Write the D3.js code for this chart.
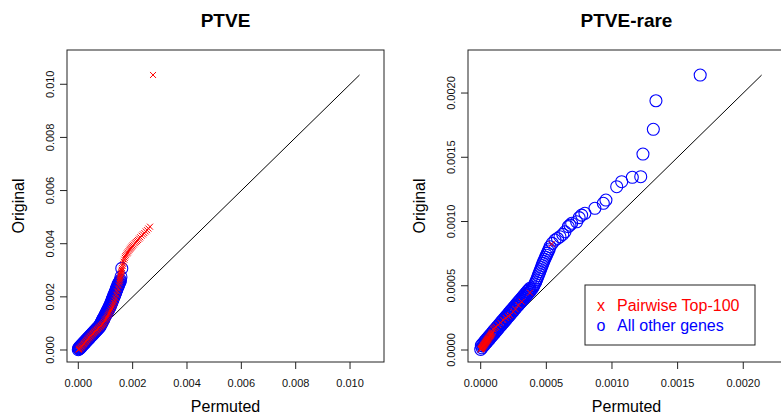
<!DOCTYPE html>
<html lang="en">
<head>
  <meta charset="UTF-8" />
  <title>PTVE QQ plots</title>
  <style>
    html, body {
      margin: 0;
      padding: 0;
      background: #fff;
    }
    svg {
      display: block;
      font-family: "Liberation Sans", Arial, Helvetica, sans-serif;
    }
  </style>
</head>
<body>

<script src="https://d3js.org/d3.v7.min.js"></script>
<script>
// ---- data ----
// PTVE, all other genes (blue circles)
const ptveOtherX = [
  0.00000, 0.00003, 0.00006, 0.00009, 0.00012, 0.00015, 0.00018, 0.00021, 0.00024, 0.00027,
  0.00030, 0.00033, 0.00036, 0.00039, 0.00042, 0.00045, 0.00048, 0.00051, 0.00054, 0.00057,
  0.00060, 0.00063, 0.00066, 0.00069, 0.00072, 0.00075, 0.00078,
  0.00080, 0.00082, 0.00084, 0.00086, 0.00088, 0.00090, 0.00092, 0.00094, 0.00096, 0.00098,
  0.00100, 0.00102, 0.00104, 0.00106, 0.00108, 0.00110, 0.00112, 0.00114, 0.00116,
  0.00118, 0.00120, 0.00122, 0.00124, 0.00126, 0.00128, 0.00130, 0.00132, 0.00134, 0.00136,
  0.00138, 0.00140, 0.00142, 0.00144, 0.00146, 0.00148, 0.00150,
  0.00152, 0.00154, 0.00155, 0.00157, 0.00160,
  // upper edge of the dense band
  0.000015, 0.000045, 0.000075, 0.000105, 0.000135, 0.000165, 0.000195, 0.000225, 0.000255, 0.000285,
  0.000315, 0.000345, 0.000375, 0.000405, 0.000435, 0.000465, 0.000495, 0.000525, 0.000555, 0.000585,
  0.000615, 0.000645, 0.000675, 0.000705, 0.000735, 0.000765,
  0.00081, 0.00083, 0.00085, 0.00087, 0.00089, 0.00091, 0.00093, 0.00095, 0.00097, 0.00099,
  0.00101, 0.00103, 0.00105, 0.00107, 0.00109, 0.00111, 0.00113, 0.00115,
  0.00117, 0.00119, 0.00121, 0.00123, 0.00125, 0.00127, 0.00129, 0.00131, 0.00133, 0.00135,
  0.00137, 0.00139, 0.00141, 0.00143, 0.00145, 0.00147, 0.00149
];
const ptveOtherY = [
  0.00001, 0.00004, 0.00006, 0.00010, 0.00013, 0.00017, 0.00020, 0.00023, 0.00027, 0.00030,
  0.00033, 0.00037, 0.00040, 0.00043, 0.00046, 0.00050, 0.00053, 0.00056, 0.00060, 0.00063,
  0.00066, 0.00069, 0.00073, 0.00076, 0.00079, 0.00083, 0.00086,
  0.00089, 0.00093, 0.00097, 0.00101, 0.00105, 0.00109, 0.00113, 0.00117, 0.00121, 0.00125,
  0.00129, 0.00133, 0.00137, 0.00141, 0.00145, 0.00149, 0.00153, 0.00157, 0.00161,
  0.00166, 0.00171, 0.00176, 0.00181, 0.00186, 0.00192, 0.00197, 0.00202, 0.00207, 0.00212,
  0.00218, 0.00223, 0.00228, 0.00234, 0.00239, 0.00244, 0.00249,
  0.00254, 0.00258, 0.00263, 0.00275, 0.00307,
  // upper edge of the dense band
  0.000070, 0.000103, 0.000136, 0.000169, 0.000202, 0.000235, 0.000268, 0.000301, 0.000334, 0.000367,
  0.000400, 0.000433, 0.000466, 0.000499, 0.000532, 0.000565, 0.000598, 0.000631, 0.000664, 0.000697,
  0.000730, 0.000763, 0.000796, 0.000829, 0.000862, 0.000895,
  0.00096, 0.00100, 0.00104, 0.00108, 0.00112, 0.00116, 0.00120, 0.00124, 0.00128, 0.00132,
  0.00136, 0.00140, 0.00144, 0.00148, 0.00152, 0.00156, 0.00160, 0.00164,
  0.00169, 0.00174, 0.00179, 0.00185, 0.00190, 0.00195, 0.00200, 0.00206, 0.00211, 0.00216,
  0.00221, 0.00227, 0.00232, 0.00237, 0.00242, 0.00248, 0.00253
];
// PTVE, pairwise top-100 (red x)
const ptveTopX = [
  0.00001, 0.00003, 0.00005, 0.00008, 0.00011, 0.00014, 0.00017, 0.00020, 0.00023, 0.00026,
  0.00029, 0.00032, 0.00035, 0.00038, 0.00041, 0.00044, 0.00047, 0.00050, 0.00053, 0.00056,
  0.00059, 0.00062, 0.00065, 0.00068, 0.00071, 0.00074, 0.00077, 0.00080, 0.00083, 0.00086,
  0.00089, 0.00092, 0.00095, 0.00098, 0.00101, 0.00104, 0.00107, 0.00110, 0.00113, 0.00116,
  0.00119, 0.00122, 0.00125, 0.00128, 0.00131, 0.00134, 0.00137, 0.00140, 0.00143, 0.00146,
  0.00149,
  0.00151, 0.00152, 0.00153, 0.00154, 0.00155, 0.00156, 0.00157, 0.00158, 0.00159, 0.00160,
  0.00161, 0.00163, 0.00165, 0.00167, 0.00169, 0.00171, 0.00173, 0.00176, 0.00179, 0.00182,
  0.00185, 0.00188, 0.00191, 0.00194, 0.00197, 0.00200, 0.00204, 0.00208, 0.00212, 0.00216,
  0.00220, 0.00224, 0.00228, 0.00233, 0.00238, 0.00243, 0.00248, 0.00253, 0.00258, 0.00264,
  0.00275
];
const ptveTopY = [
  0.00001, 0.00003, 0.00006, 0.00009, 0.00013, 0.00016, 0.00020, 0.00023, 0.00026, 0.00030,
  0.00033, 0.00037, 0.00040, 0.00044, 0.00047, 0.00051, 0.00054, 0.00058, 0.00061, 0.00064,
  0.00067, 0.00070, 0.00073, 0.00076, 0.00079, 0.00082, 0.00085, 0.00088, 0.00091, 0.00094,
  0.00097, 0.00100, 0.00105, 0.00111, 0.00116, 0.00121, 0.00126, 0.00132, 0.00137, 0.00142,
  0.00149, 0.00156, 0.00164, 0.00171, 0.00178, 0.00186, 0.00196, 0.00208, 0.00220, 0.00231,
  0.00243,
  0.00253, 0.00260, 0.00266, 0.00272, 0.00278, 0.00284, 0.00289, 0.00294, 0.00298, 0.00302,
  0.00308, 0.00316, 0.00324, 0.00332, 0.00340, 0.00347, 0.00353, 0.00358, 0.00363, 0.00367,
  0.00372, 0.00377, 0.00381, 0.00385, 0.00389, 0.00393, 0.00397, 0.00402, 0.00406, 0.00410,
  0.00414, 0.00419, 0.00424, 0.00430, 0.00435, 0.00440, 0.00446, 0.00451, 0.00457, 0.00464,
  0.01035
];

// PTVE-rare, all other genes (blue circles)
const rareOtherX = [
  0.000000, 0.000010, 0.000020, 0.000030, 0.000040, 0.000050, 0.000060, 0.000070, 0.000080, 0.000090,
  0.000100, 0.000110, 0.000120, 0.000130, 0.000140, 0.000150, 0.000160, 0.000170, 0.000180, 0.000190,
  0.000200, 0.000210, 0.000220, 0.000230, 0.000240, 0.000250, 0.000260, 0.000270, 0.000280, 0.000290,
  0.000300, 0.000310, 0.000320, 0.000330, 0.000340, 0.000350, 0.000360, 0.000370, 0.000380,
  0.000390, 0.000398, 0.000405, 0.000412, 0.000419, 0.000426, 0.000432, 0.000438, 0.000444, 0.000450,
  0.000456, 0.000462, 0.000468, 0.000474, 0.000480, 0.000487, 0.000494, 0.000501, 0.000508, 0.000515,
  0.000522, 0.000528, 0.000545, 0.000566, 0.000585, 0.000604, 0.000625, 0.000642, 0.000667, 0.000680,
  0.000693, 0.000731, 0.000750, 0.000769, 0.000794, 0.000870, 0.000934, 0.000954, 0.001036, 0.001074,
  0.001155, 0.001219, 0.001236, 0.001315, 0.001335, 0.001672,
  // upper edge of the dense band
  0.000005, 0.000015, 0.000025, 0.000035, 0.000045, 0.000055, 0.000065, 0.000075, 0.000085, 0.000095,
  0.000105, 0.000115, 0.000125, 0.000135, 0.000145, 0.000155, 0.000165, 0.000175, 0.000185, 0.000195,
  0.000205, 0.000215, 0.000225, 0.000235, 0.000245, 0.000255, 0.000265, 0.000275, 0.000285, 0.000295,
  0.000305, 0.000315, 0.000325, 0.000335, 0.000345, 0.000355, 0.000365, 0.000375
];
const rareOtherY = [
  0.000005, 0.000017, 0.000030, 0.000041, 0.000054, 0.000066, 0.000077, 0.000089, 0.000102, 0.000113,
  0.000125, 0.000138, 0.000149, 0.000161, 0.000174, 0.000185, 0.000197, 0.000210, 0.000221, 0.000233,
  0.000246, 0.000257, 0.000269, 0.000282, 0.000293, 0.000305, 0.000318, 0.000329, 0.000341, 0.000354,
  0.000365, 0.000377, 0.000390, 0.000401, 0.000413, 0.000426, 0.000437, 0.000449, 0.000461,
  0.000475, 0.000487, 0.000500, 0.000515, 0.000530, 0.000546, 0.000562, 0.000578, 0.000594, 0.000610,
  0.000626, 0.000642, 0.000658, 0.000674, 0.000690, 0.000706, 0.000722, 0.000738, 0.000754, 0.000770,
  0.000786, 0.000804, 0.000830, 0.000856, 0.000868, 0.000882, 0.000900, 0.000920, 0.000960, 0.000972,
  0.000986, 0.000998, 0.001030, 0.001050, 0.001064, 0.001103, 0.001142, 0.001167, 0.001271, 0.001310,
  0.001344, 0.001349, 0.001525, 0.001718, 0.001940, 0.002140,
  // upper edge of the dense band
  0.000036, 0.000048, 0.000060, 0.000072, 0.000084, 0.000096, 0.000108, 0.000120, 0.000132, 0.000144,
  0.000156, 0.000168, 0.000180, 0.000192, 0.000204, 0.000216, 0.000228, 0.000240, 0.000252, 0.000264,
  0.000276, 0.000288, 0.000300, 0.000312, 0.000324, 0.000336, 0.000348, 0.000360, 0.000372, 0.000384,
  0.000396, 0.000408, 0.000420, 0.000432, 0.000444, 0.000456, 0.000468, 0.000480
];
// PTVE-rare, pairwise top-100 (red x)
const rareTopX = [
  0.000000, 0.000002, 0.000004, 0.000006, 0.000008, 0.000010, 0.000012, 0.000014, 0.000016, 0.000018,
  0.000020, 0.000022, 0.000024, 0.000026, 0.000028, 0.000030, 0.000032, 0.000034, 0.000036, 0.000038,
  0.000040, 0.000042, 0.000044, 0.000046, 0.000048, 0.000050, 0.000052, 0.000054, 0.000056, 0.000058,
  0.000060, 0.000063, 0.000066, 0.000069, 0.000072, 0.000075, 0.000078, 0.000081, 0.000084, 0.000087,
  0.000090, 0.000096, 0.000105, 0.000115, 0.000134, 0.000150, 0.000172, 0.000190, 0.000210, 0.000223,
  0.000249, 0.000265, 0.000287, 0.000312, 0.000375, 0.000540
];
const rareTopY = [
  0.000004, 0.000007, 0.000010, 0.000012, 0.000015, 0.000018, 0.000021, 0.000024, 0.000027, 0.000030,
  0.000033, 0.000036, 0.000039, 0.000042, 0.000045, 0.000048, 0.000051, 0.000054, 0.000057, 0.000060,
  0.000063, 0.000066, 0.000069, 0.000072, 0.000075, 0.000078, 0.000081, 0.000084, 0.000087, 0.000090,
  0.000093, 0.000097, 0.000101, 0.000105, 0.000109, 0.000113, 0.000118, 0.000123, 0.000128, 0.000134,
  0.000140, 0.000162, 0.000172, 0.000180, 0.000195, 0.000212, 0.000233, 0.000250, 0.000262, 0.000272,
  0.000298, 0.000318, 0.000350, 0.000376, 0.000446, 0.000825
];

const ptveTicks = [0, 0.002, 0.004, 0.006, 0.008, 0.010];
const ptveTickLabels = ["0.000", "0.002", "0.004", "0.006", "0.008", "0.010"];
const rareTicks = [0, 0.0005, 0.0010, 0.0015, 0.0020];
const rareTickLabels = ["0.0000", "0.0005", "0.0010", "0.0015", "0.0020"];
const legendLabels = ["Pairwise Top-100", "All other genes"];
const legendSymbols = ["x", "o"];

const width = 781;
const height = 414;
const red = "#ff0000";
const blue = "#0000ff";

function panel(svg, p) {
  const x = d3.scaleLinear().domain(p.xDomain).range([p.left, p.right]);
  const y = d3.scaleLinear().domain(p.yDomain).range([p.bottom, p.top]);
  const g = svg.append("g");

  // 45 degree reference line up to the largest original value
  const m = d3.max(p.oy.concat(p.ty));
  g.append("line")
    .attr("x1", x(0)).attr("y1", y(0))
    .attr("x2", x(m)).attr("y2", y(m))
    .attr("stroke", "#000")
    .attr("stroke-width", 1);

  // other genes
  g.append("g")
    .attr("fill", "none")
    .attr("stroke", blue)
    .attr("stroke-width", 1.1)
    .selectAll("circle")
    .data(d3.range(p.ox.length))
    .join("circle")
      .attr("cx", i => x(p.ox[i]))
      .attr("cy", i => y(p.oy[i]))
      .attr("r", 6);

  // top-100 genes
  const s = 3;
  g.append("g")
    .attr("fill", "none")
    .attr("stroke", red)
    .attr("stroke-width", 1)
    .selectAll("path")
    .data(d3.range(p.tx.length))
    .join("path")
      .attr("d", i => {
        const cx = x(p.tx[i]), cy = y(p.ty[i]);
        return `M${cx - s},${cy - s}L${cx + s},${cy + s}M${cx - s},${cy + s}L${cx + s},${cy - s}`;
      });

  // box
  g.append("rect")
    .attr("x", p.left).attr("y", p.top)
    .attr("width", p.right - p.left).attr("height", p.bottom - p.top)
    .attr("fill", "none")
    .attr("stroke", "#222")
    .attr("stroke-width", 1);

  // x axis ticks
  const xt = g.append("g").selectAll("g").data(p.ticks).join("g");
  xt.append("line")
    .attr("x1", d => x(d)).attr("x2", d => x(d))
    .attr("y1", p.bottom).attr("y2", p.bottom + 7)
    .attr("stroke", "#222");
  xt.append("text")
    .attr("x", d => x(d)).attr("y", p.bottom + 25)
    .attr("text-anchor", "middle")
    .attr("font-size", 11)
    .attr("fill", "#111")
    .text((d, i) => p.labels[i]);

  // y axis ticks
  const yt = g.append("g").selectAll("g").data(p.ticks).join("g");
  yt.append("line")
    .attr("y1", d => y(d)).attr("y2", d => y(d))
    .attr("x1", p.left).attr("x2", p.left - 7)
    .attr("stroke", "#222");
  yt.append("text")
    .attr("transform", d => `translate(${p.left - 13},${y(d)}) rotate(-90)`)
    .attr("text-anchor", "middle")
    .attr("font-size", 11)
    .attr("fill", "#111")
    .text((d, i) => p.labels[i]);

  // titles
  const cx = (p.left + p.right) / 2;
  g.append("text")
    .attr("x", cx).attr("y", 27)
    .attr("text-anchor", "middle")
    .attr("font-size", 19)
    .attr("font-weight", "bold")
    .text(p.title);
  g.append("text")
    .attr("x", cx).attr("y", 412)
    .attr("text-anchor", "middle")
    .attr("font-size", 16)
    .text("Permuted");
  g.append("text")
    .attr("transform", `translate(${p.left - 43},${(p.top + p.bottom) / 2}) rotate(-90)`)
    .attr("text-anchor", "middle")
    .attr("font-size", 16)
    .text("Original");

  return {x, y};
}

const svg = d3.create("svg")
  .attr("width", width)
  .attr("height", height)
  .attr("viewBox", [0, 0, width, height]);

svg.append("rect").attr("width", width).attr("height", height).attr("fill", "#fff");

panel(svg, {
  title: "PTVE",
  left: 67, right: 384, top: 50, bottom: 362,
  xDomain: [-0.000416, 0.01125],
  yDomain: [-0.000452, 0.01129],
  ox: ptveOtherX, oy: ptveOtherY, tx: ptveTopX, ty: ptveTopY,
  ticks: ptveTicks, labels: ptveTickLabels
});

panel(svg, {
  title: "PTVE-rare",
  left: 468, right: 785, top: 50, bottom: 362,
  xDomain: [-0.0000967, 0.002318],
  yDomain: [-0.0000934, 0.002335],
  ox: rareOtherX, oy: rareOtherY, tx: rareTopX, ty: rareTopY,
  ticks: rareTicks, labels: rareTickLabels
});

// legend
const lg = svg.append("g").attr("transform", "translate(585,285)");
lg.append("rect")
  .attr("width", 170).attr("height", 60)
  .attr("fill", "#fff")
  .attr("stroke", "#222");
const rows = lg.selectAll("g.row").data(legendLabels).join("g")
  .attr("class", "row")
  .attr("transform", (d, i) => `translate(0,${26 + i * 20})`);
rows.append("text")
  .attr("x", 16)
  .attr("text-anchor", "middle")
  .attr("font-size", 16)
  .attr("fill", (d, i) => i === 0 ? red : blue)
  .text((d, i) => legendSymbols[i]);
rows.append("text")
  .attr("x", 32)
  .attr("font-size", 16)
  .attr("fill", (d, i) => i === 0 ? red : blue)
  .text(d => d);

document.body.appendChild(svg.node());
</script>
</body>
</html>
